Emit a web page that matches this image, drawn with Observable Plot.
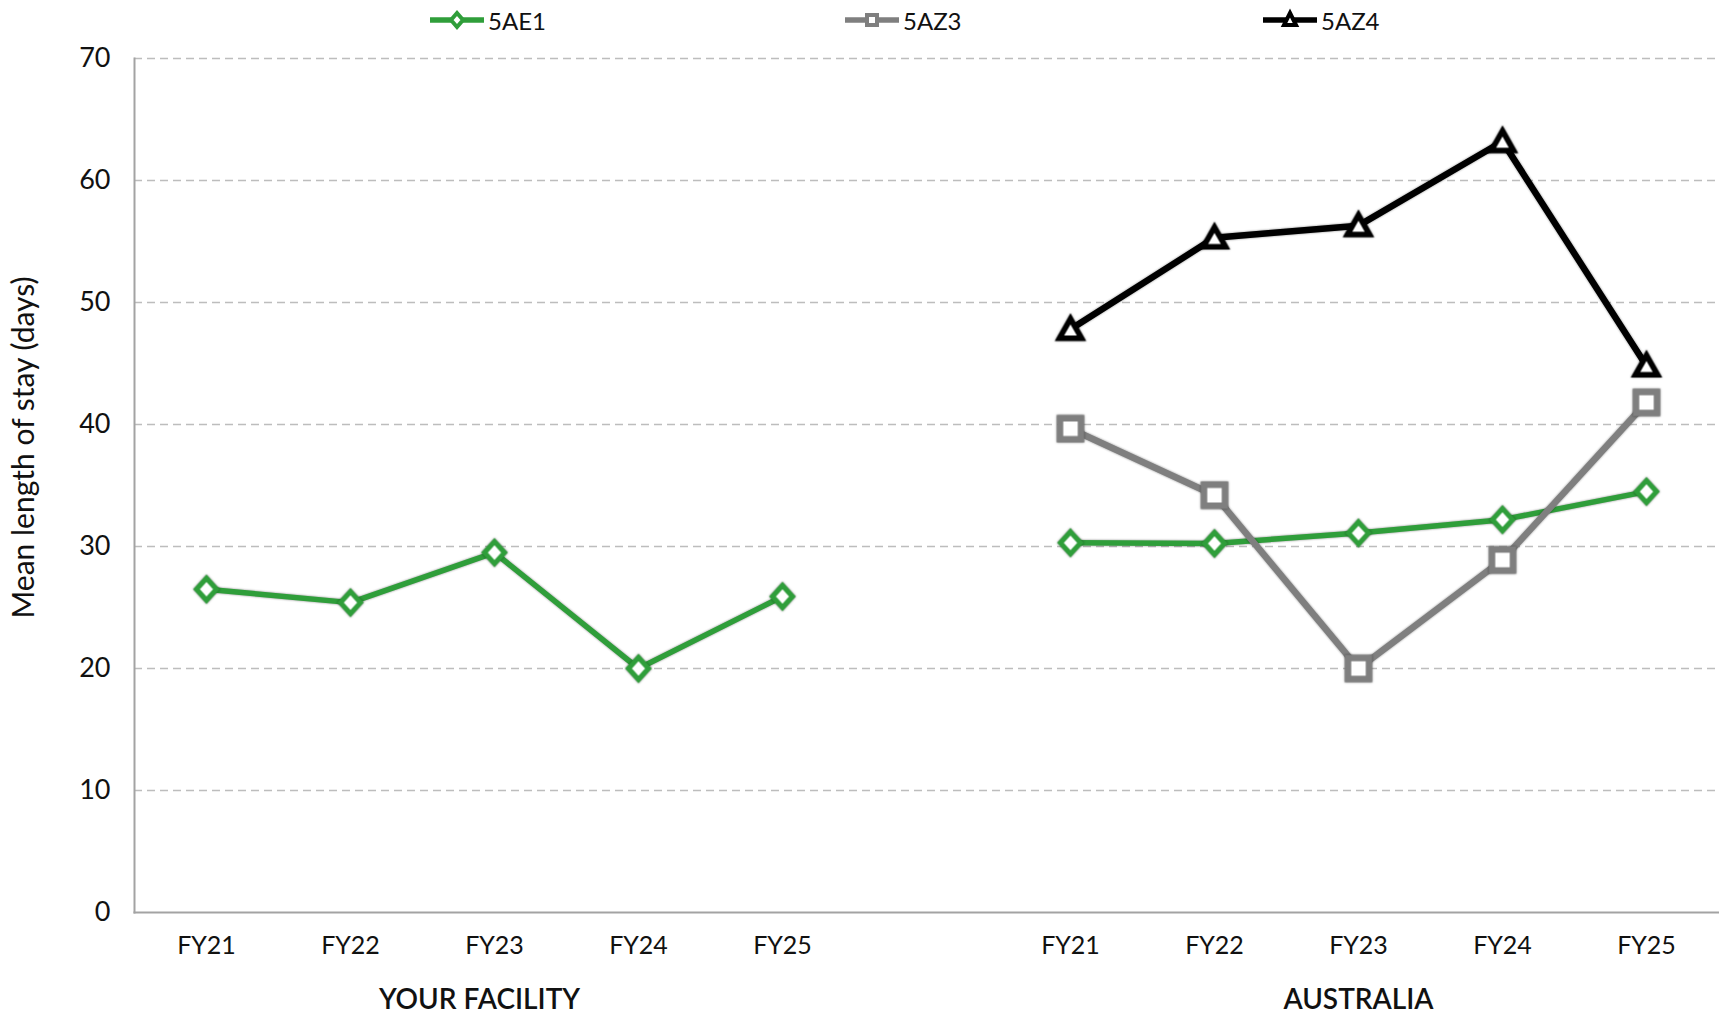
<!DOCTYPE html>
<html>
<head>
<meta charset="utf-8">
<script src="https://cdn.jsdelivr.net/npm/d3@7"></script>
<script src="https://cdn.jsdelivr.net/npm/@observablehq/plot@0.6"></script>
<style>
  html, body { margin: 0; padding: 0; background: #fff; }
  body { width: 1719px; height: 1013px; overflow: hidden; font-family: Lato, "Noto Sans", sans-serif; }
  #legend { position: relative; width: 1719px; height: 40px; }
  .item { position: absolute; top: 0; height: 40px; display: flex; align-items: center; font-size: 24px; color: #111; }
  .item svg { margin-right: 4px; }
  .shadow { filter: drop-shadow(0.5px 0.8px 1.2px rgba(0,0,0,0.45)); }
</style>
</head>
<body>
<div id="legend"></div>
<div id="chart"></div>
<script>
// ---- data ----
const years = ["FY21", "FY22", "FY23", "FY24", "FY25"];
const groups = ["YOUR FACILITY", "AUSTRALIA"];
const seriesNames = ["5AE1", "5AZ3", "5AZ4"];
const seriesColors = ["#2f9e3a", "#7f7f7f", "#000000"];
const facility5AE1 = [26.5, 25.4, 29.5, 20.0, 25.9];
const australia5AE1 = [30.3, 30.25, 31.1, 32.2, 34.5];
const australia5AZ3 = [39.65, 34.2, 20.0, 28.9, 41.8];
const australia5AZ4 = [47.8, 55.3, 56.3, 63.2, 44.8];
const yTicks = [0, 10, 20, 30, 40, 50, 60, 70];
const yTitle = "Mean length of stay (days)";

// ---- derived tables ----
const keyOf = (g, y) => g + "|" + y;
const xDomain = [...years.map(y => keyOf(groups[0], y)), "gap", ...years.map(y => keyOf(groups[1], y))];
const tickKeys = xDomain.filter(k => k !== "gap");
const rowsFor = (group, series, values) =>
  values.map((v, i) => ({key: keyOf(group, years[i]), group, series, value: v}));
const s1 = [...rowsFor(groups[0], seriesNames[0], facility5AE1), ...rowsFor(groups[1], seriesNames[0], australia5AE1)];
const s2 = rowsFor(groups[1], seriesNames[1], australia5AZ3);
const s3 = rowsFor(groups[1], seriesNames[2], australia5AZ4);
const groupLabels = groups.map(g => ({key: keyOf(g, "FY23"), label: g}));

// ---- marker shapes ----
const diamondSym = {draw(c, size) { const r = Math.sqrt(size / Math.PI);
  c.moveTo(0, -r * 1.1); c.lineTo(r, 0); c.lineTo(0, r * 1.1); c.lineTo(-r, 0); c.closePath(); }};
const squareSym = {draw(c, size) { const r = Math.sqrt(size / Math.PI);
  c.moveTo(-r, -r); c.lineTo(r, -r); c.lineTo(r, r); c.lineTo(-r, r); c.closePath(); }};
const triangleSym = {draw(c, size) { const r = Math.sqrt(size / Math.PI);
  c.moveTo(0, -r); c.lineTo(r * 1.05, r * 0.85); c.lineTo(-r * 1.05, r * 0.85); c.closePath(); }};
const symbols = [diamondSym, squareSym, triangleSym];

// ---- legend ----
const legend = document.getElementById("legend");
const legendLeft = [430, 845, 1263];
const legendPaths = [
  "M27,13 L33,20 L27,27 L21,20 Z",
  "M22,15 L32,15 L32,25 L22,25 Z",
  "M27,13 L33,25 L21,25 Z"
];
seriesNames.forEach((name, i) => {
  const div = document.createElement("div");
  div.className = "item";
  div.style.left = legendLeft[i] + "px";
  div.innerHTML = `<svg width="54" height="40"><line x1="0" x2="54" y1="20" y2="20" stroke="${seriesColors[i]}" stroke-width="5.5"/>` +
    `<path d="${legendPaths[i]}" fill="#fff" stroke="${seriesColors[i]}" stroke-width="4"/></svg><span>${name}</span>`;
  legend.appendChild(div);
});

// ---- chart ----
const lineOpts = (i, w) => ({x: "key", y: "value", z: "group", stroke: seriesColors[i], strokeWidth: w, strokeLinejoin: "round", strokeLinecap: "round", className: "shadow"});
const dotOpts = (i, r, w) => ({x: "key", y: "value", symbol: symbols[i], r, fill: "#fff", stroke: seriesColors[i], strokeWidth: w, strokeLinejoin: "miter", className: "shadow"});

const chart = Plot.plot({
  width: 1719,
  height: 973,
  marginTop: 18,
  marginBottom: 101,
  marginLeft: 134,
  marginRight: 1,
  style: {fontFamily: "Lato, 'Noto Sans', sans-serif", fontSize: "24px", color: "#000", background: "#fff", overflow: "visible"},
  x: {type: "point", domain: xDomain, padding: 0.5, round: false},
  y: {domain: [0, 70]},
  marks: [
    Plot.gridY(yTicks.filter(t => t > 0), {stroke: "#bdbdbd", strokeOpacity: 1, strokeWidth: 1.5, strokeDasharray: "8,5"}),
    Plot.frame({anchor: "left", stroke: "#a3a3a3", strokeWidth: 2}),
    Plot.frame({anchor: "bottom", stroke: "#a3a3a3", strokeWidth: 2}),
    Plot.axisY(yTicks, {tickSize: 0, tickPadding: 24, fontSize: 27, label: null, fill: "#111"}),
    Plot.axisX(tickKeys, {tickSize: 0, tickPadding: 24, fontSize: 25, label: null, fill: "#111", tickFormat: k => k.split("|")[1]}),
    Plot.line(s1, lineOpts(0, 5.5)),
    Plot.dot(s1, dotOpts(0, 10, 5)),
    Plot.line(s2, lineOpts(1, 6.5)),
    Plot.dot(s2, dotOpts(1, 10.5, 6.5)),
    Plot.line(s3, lineOpts(2, 6.5)),
    Plot.dot(s3, dotOpts(2, 10.5, 5.5)),
    Plot.text(groupLabels.slice(0, 1), {x: "key", text: "label", frameAnchor: "bottom", lineAnchor: "bottom", dy: 96, dx: -15, fontSize: 28, fontWeight: 600, fill: "#111"}),
    Plot.text(groupLabels.slice(1), {x: "key", text: "label", frameAnchor: "bottom", lineAnchor: "bottom", dy: 96, fontSize: 28, fontWeight: 600, fill: "#111"}),
    Plot.text([yTitle], {text: d => d, frameAnchor: "left", textAnchor: "middle", rotate: -90, dx: -110, dy: -38, fontSize: 30, fill: "#111"})
  ]
});
document.getElementById("chart").appendChild(chart);
</script>
</body>
</html>
